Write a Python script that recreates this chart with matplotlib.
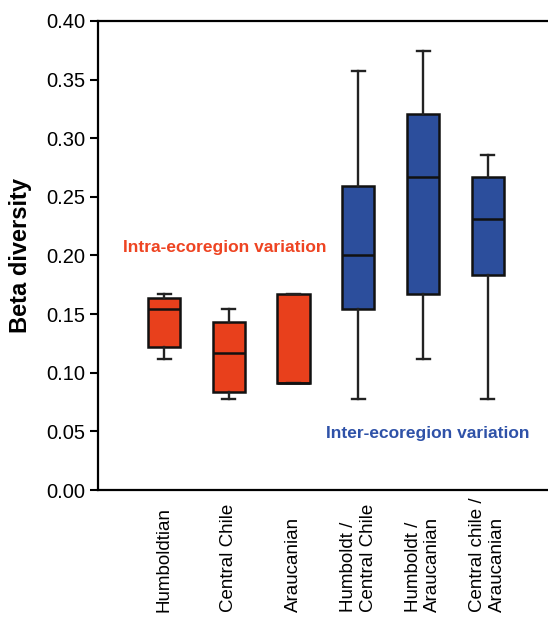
import matplotlib.pyplot as plt
from matplotlib import transforms

plt.rcParams['font.family'] = ['Liberation Sans', 'DejaVu Sans']

# 各組的箱形圖統計值
labels = ['Humboldtian', 'Central Chile', 'Araucanian',
          'Humboldt /\nCentral Chile', 'Humboldt /\nAraucanian',
          'Central chile /\nAraucanian']
whislo = [0.112, 0.078, 0.091, 0.078, 0.112, 0.078]
q1 = [0.122, 0.084, 0.091, 0.154, 0.167, 0.183]
med = [0.154, 0.117, 0.091, 0.200, 0.267, 0.231]
q3 = [0.164, 0.143, 0.167, 0.259, 0.321, 0.267]
whishi = [0.167, 0.154, 0.167, 0.357, 0.374, 0.286]
groups = ['intra', 'intra', 'intra', 'inter', 'inter', 'inter']

RED = '#E8401C'
BLUE = '#2C4E9C'

fig = plt.figure(figsize=(5.48, 6.17), dpi=100)
ax = fig.add_axes([0.1788, 0.2058, 0.8212, 0.7602])

stats = []
for i in range(len(labels)):
    stats.append({'whislo': whislo[i], 'q1': q1[i], 'med': med[i],
                  'q3': q3[i], 'whishi': whishi[i], 'fliers': []})

positions = list(range(1, len(labels) + 1))
bp = ax.bxp(stats, positions=positions, widths=0.5, patch_artist=True,
            showfliers=False, capwidths=0.2,
            boxprops=dict(linewidth=1.8, edgecolor='#111111'),
            medianprops=dict(color='#111111', linewidth=1.8),
            whiskerprops=dict(color='#222222', linewidth=1.7),
            capprops=dict(color='#222222', linewidth=1.7))
for patch, g in zip(bp['boxes'], groups):
    patch.set_facecolor(RED if g == 'intra' else BLUE)

ax.set_xlim(-0.02, 6.93)
ax.set_ylim(0, 0.40)
ax.set_yticks([i * 0.05 for i in range(9)])
ax.set_yticklabels(['%.2f' % (i * 0.05) for i in range(9)], fontsize=14.5)
ax.tick_params(axis='y', direction='out', length=6, width=1.5, pad=3)
ax.set_xticks([])
ax.spines['right'].set_visible(False)
for s in ['left', 'top', 'bottom']:
    ax.spines[s].set_linewidth(1.6)

ax.set_ylabel('Beta diversity', fontsize=17, fontweight='bold', labelpad=10)

# x 軸標籤：旋轉 90 度，從底部對齊
trans = transforms.blended_transform_factory(ax.transData, fig.transFigure)
for p, lab in zip(positions, labels):
    ax.text(p, 0.008, lab, transform=trans, rotation=90, ha='center',
            va='bottom', multialignment='left', fontsize=13.5)

ax.text(1.94, 0.207, 'Intra-ecoregion variation', color='#EE4422',
        fontsize=12.5, fontweight='bold', ha='center', va='center')
ax.text(5.08, 0.048, 'Inter-ecoregion variation', color='#2F52A8',
        fontsize=12.5, fontweight='bold', ha='center', va='center')

plt.savefig('out.png', dpi=100)
